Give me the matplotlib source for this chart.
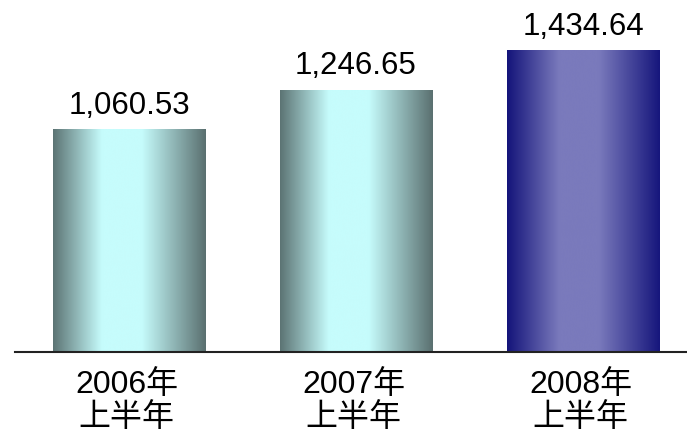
import matplotlib
matplotlib.use('Agg')
import matplotlib.pyplot as plt
import numpy as np
from matplotlib.colors import LinearSegmentedColormap

# data
categories = ['2006年\n上半年', '2007年\n上半年', '2008年\n上半年']
values = [1060.53, 1246.65, 1434.64]
value_labels = ['1,060.53', '1,246.65', '1,434.64']

teal = LinearSegmentedColormap.from_list(
    'teal', [(0.0, '#5c7474'), (0.32, '#c6fcfc'), (0.58, '#c6fcfc'), (1.0, '#5a7070')])
navy = LinearSegmentedColormap.from_list(
    'navy', [(0.0, '#14147a'), (0.34, '#7a7abc'), (0.6, '#7a7abc'), (1.0, '#16167c')])
bar_cmaps = [teal, teal, navy]

fig = plt.figure(figsize=(6.87, 4.36), dpi=100)
ax = fig.add_axes([15 / 687, 84 / 436, 672 / 687, 352 / 436])

x = np.arange(len(values))
width = 0.67
bars = ax.bar(x, values, width=width, color='none', edgecolor='none')

grad = np.linspace(0, 1, 256).reshape(1, -1)
for rect, cmap in zip(bars, bar_cmaps):
    x0, y0 = rect.get_x(), rect.get_y()
    w, h = rect.get_width(), rect.get_height()
    im = ax.imshow(grad, cmap=cmap, aspect='auto', extent=[x0, x0 + w, y0, y0 + h],
                   interpolation='bicubic', zorder=2)
    im.set_clip_path(rect)

ax.set_xlim(-0.502, 2.458)
ax.set_ylim(0, 1674)

fonts = ['Liberation Sans', 'Noto Sans CJK SC']
for xi, v, lab in zip(x, values, value_labels):
    ax.text(xi, v + 40, lab, ha='center', va='bottom', fontsize=22.5,
            family=fonts, color='black')

for xi, cat in zip(x, categories):
    ax.text(xi - 0.01, -85, cat, ha='center', va='top', fontsize=23, linespacing=1.12,
            family=fonts, color='black', clip_on=False)

for side in ['top', 'right', 'left']:
    ax.spines[side].set_visible(False)
ax.spines['bottom'].set_linewidth(1.5)
ax.spines['bottom'].set_color('#222222')
ax.set_xticks([])
ax.set_yticks([])

fig.savefig('out.png', dpi=100)
